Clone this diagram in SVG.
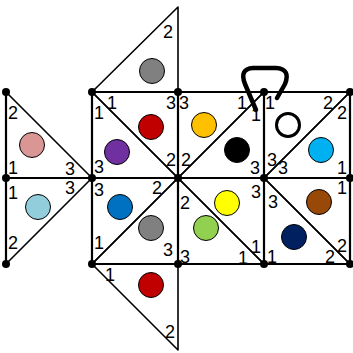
<svg xmlns="http://www.w3.org/2000/svg" width="353" height="353" viewBox="0 0 353 353">
<style>
.tri{fill:none;stroke:#000;stroke-width:1.6;stroke-linejoin:round}
.c{stroke:#000;stroke-width:1}
.l{font-family:"Liberation Sans",Arial,sans-serif;font-size:18px;fill:#000;text-anchor:middle;dominant-baseline:central}
.edge{stroke:#000;stroke-width:2.2;fill:none}
.dot{fill:#000}
</style>
<rect width="353" height="353" fill="#fff"/>
<g id="t1"><polygon class="tri" points="6,92 6,178 92,178"/><circle class="c" cx="32" cy="145" r="12.5" fill="#d99694"/><text class="l" x="13" y="113">2</text><text class="l" x="13" y="168">1</text><text class="l" x="70" y="169">3</text></g>
<g id="t2"><polygon class="tri" points="6,178 92,178 6,264"/><circle class="c" cx="38" cy="207" r="12.5" fill="#92cddc"/><text class="l" x="13" y="193">1</text><text class="l" x="70" y="188">3</text><text class="l" x="13" y="243">2</text></g>
<g id="t3"><polygon class="tri" points="92,92 178,7 178,92"/><circle class="c" cx="152" cy="71" r="12.5" fill="#808080"/><text class="l" x="168" y="32">2</text></g>
<g id="t4"><polygon class="tri" points="92,92 178,92 178,178"/><circle class="c" cx="151" cy="127" r="12.5" fill="#c00000"/><text class="l" x="112" y="103">1</text><text class="l" x="171" y="103">3</text><text class="l" x="171" y="160">2</text></g>
<g id="t5"><polygon class="tri" points="92,92 92,178 178,178"/><circle class="c" cx="117" cy="152" r="12.5" fill="#7030a0"/><text class="l" x="99" y="113">1</text><text class="l" x="99" y="167">3</text></g>
<g id="t6"><polygon class="tri" points="92,178 178,178 92,264"/><circle class="c" cx="120" cy="207" r="12.5" fill="#0070c0"/><text class="l" x="99" y="190">3</text><text class="l" x="157" y="188">2</text><text class="l" x="99" y="243">1</text></g>
<g id="t7"><polygon class="tri" points="178,178 178,264 92,264"/><circle class="c" cx="151" cy="228" r="12.5" fill="#808080"/><text class="l" x="168" y="250">3</text></g>
<g id="t8"><polygon class="tri" points="178,92 264,92 178,178"/><circle class="c" cx="204" cy="125" r="12.5" fill="#ffc000"/><text class="l" x="184" y="103">3</text><text class="l" x="242" y="103">1</text><text class="l" x="186" y="160">2</text></g>
<g id="t9"><polygon class="tri" points="264,92 264,178 178,178"/><circle class="c" cx="237" cy="150" r="12.5" fill="#000000"/><text class="l" x="256" y="115">1</text><text class="l" x="255" y="168">3</text></g>
<g id="t10"><polygon class="tri" points="264,92 350,92 264,178"/><circle cx="288" cy="125" r="11.5" fill="#fff" stroke="#000" stroke-width="3"/><text class="l" x="270" y="103">1</text><text class="l" x="328" y="103">2</text><text class="l" x="272" y="160">3</text></g>
<g id="t11"><polygon class="tri" points="350,92 350,178 264,178"/><circle class="c" cx="321" cy="150" r="12.5" fill="#00b0f0"/><text class="l" x="342" y="113">2</text><text class="l" x="283" y="168">3</text><text class="l" x="342" y="168">1</text></g>
<g id="t12"><polygon class="tri" points="178,178 264,178 264,264"/><circle class="c" cx="227" cy="203" r="12.5" fill="#ffff00"/><text class="l" x="256" y="192">3</text><text class="l" x="256" y="247">1</text></g>
<g id="t13"><polygon class="tri" points="178,178 178,264 264,264"/><circle class="c" cx="206" cy="228" r="12.5" fill="#92d050"/><text class="l" x="185" y="203">2</text><text class="l" x="185" y="257">3</text><text class="l" x="243" y="258">1</text></g>
<g id="t14"><polygon class="tri" points="264,178 350,178 350,264"/><circle class="c" cx="319" cy="202" r="12.5" fill="#984807"/><text class="l" x="342" y="188">1</text><text class="l" x="342" y="246">2</text></g>
<g id="t15"><polygon class="tri" points="264,178 264,264 350,264"/><circle class="c" cx="294" cy="237" r="12.5" fill="#002060"/><text class="l" x="273" y="202">3</text><text class="l" x="272" y="257">1</text><text class="l" x="330" y="257">2</text></g>
<g id="t16"><polygon class="tri" points="92,264 178,264 178,350"/><circle class="c" cx="151" cy="285" r="12.5" fill="#c00000"/><text class="l" x="110" y="275">1</text><text class="l" x="170" y="332">2</text></g>
<g id="edges">
<path class="edge" d="M92,92H350M6,178H350M92,264H350M92,92V264M178,92V264M264,92V264M350,92V264M6,92V264"/>
</g>
<g id="handle"><path d="M256,110 L245,84 Q239,69 253,68 L276,68 Q291,69 285,84 L277,98" fill="none" stroke="#000" stroke-width="4.5" stroke-linecap="round" stroke-linejoin="round"/></g>
<g id="dots">
<circle class="dot" cx="6" cy="92" r="4"/><circle class="dot" cx="6" cy="178" r="4"/><circle class="dot" cx="6" cy="264" r="4"/>
<circle class="dot" cx="92" cy="92" r="4"/><circle class="dot" cx="92" cy="178" r="4"/><circle class="dot" cx="92" cy="264" r="4"/>
<circle class="dot" cx="178" cy="92" r="4"/><circle class="dot" cx="178" cy="178" r="4"/><circle class="dot" cx="178" cy="264" r="4"/>
<circle class="dot" cx="264" cy="92" r="4"/><circle class="dot" cx="264" cy="178" r="4"/><circle class="dot" cx="264" cy="264" r="4"/>
<circle class="dot" cx="350" cy="92" r="4"/><circle class="dot" cx="350" cy="178" r="4"/><circle class="dot" cx="350" cy="264" r="4"/>
</g>
</svg>
